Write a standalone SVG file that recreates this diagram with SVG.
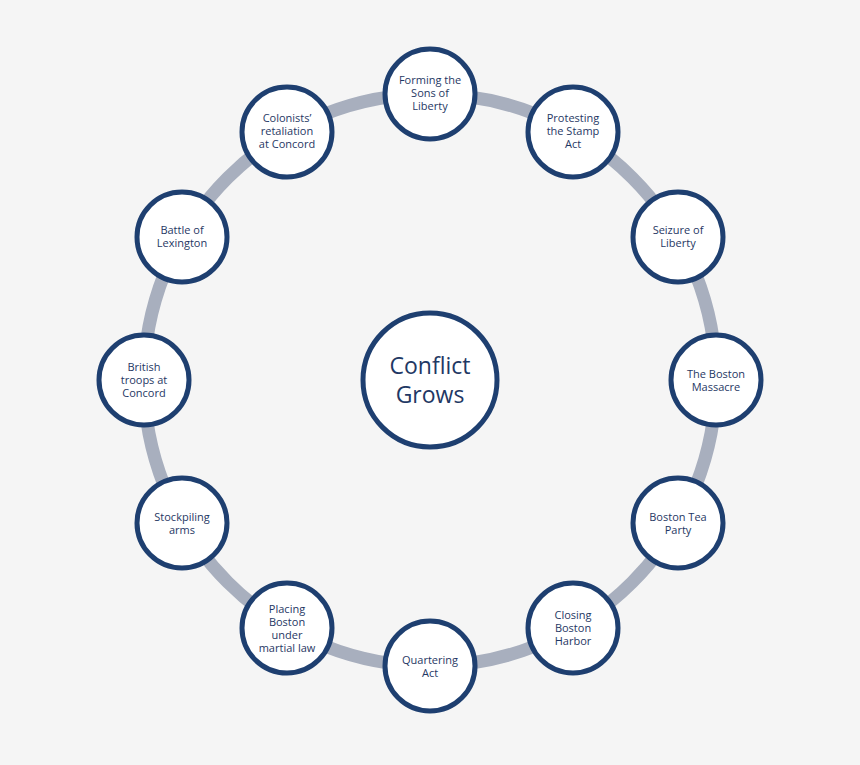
<svg xmlns="http://www.w3.org/2000/svg" width="860" height="765" viewBox="0 0 860 765">
<style>
.n{fill:#fff;stroke:#1e3f70;stroke-width:5}
.t{font-family:"Open Sans","Liberation Sans",sans-serif;font-size:11px;fill:#1f3864;text-anchor:middle}
.c{font-family:"Open Sans","Liberation Sans",sans-serif;font-size:23px;fill:#1f3864;text-anchor:middle}
</style>
<rect width="860" height="765" fill="#f5f5f5"/>
<g id="connectors"><circle cx="430" cy="380" r="286" fill="none" stroke="#a8afbe" stroke-width="13"/></g>
<g id="center"><circle class="n" cx="430" cy="380" r="67"/><text class="c" x="430" y="374">Conflict</text><text class="c" x="430" y="403">Grows</text></g>
<g id="n1"><circle class="n" cx="430" cy="94" r="45"/><text class="t" x="430" y="84">Forming the</text><text class="t" x="430" y="97">Sons of</text><text class="t" x="430" y="110">Liberty</text></g>
<g id="n2"><circle class="n" cx="573" cy="132" r="45"/><text class="t" x="573" y="122">Protesting</text><text class="t" x="573" y="135">the Stamp</text><text class="t" x="573" y="148">Act</text></g>
<g id="n3"><circle class="n" cx="678" cy="237" r="45"/><text class="t" x="678" y="234">Seizure of</text><text class="t" x="678" y="247">Liberty</text></g>
<g id="n4"><circle class="n" cx="716" cy="380" r="45"/><text class="t" x="716" y="378">The Boston</text><text class="t" x="716" y="391">Massacre</text></g>
<g id="n5"><circle class="n" cx="678" cy="523" r="45"/><text class="t" x="678" y="521">Boston Tea</text><text class="t" x="678" y="534">Party</text></g>
<g id="n6"><circle class="n" cx="573" cy="628" r="45"/><text class="t" x="573" y="619">Closing</text><text class="t" x="573" y="632">Boston</text><text class="t" x="573" y="645">Harbor</text></g>
<g id="n7"><circle class="n" cx="430" cy="666" r="45"/><text class="t" x="430" y="664">Quartering</text><text class="t" x="430" y="677">Act</text></g>
<g id="n8"><circle class="n" cx="287" cy="628" r="45"/><text class="t" x="287" y="613">Placing</text><text class="t" x="287" y="626">Boston</text><text class="t" x="287" y="639">under</text><text class="t" x="287" y="652">martial law</text></g>
<g id="n9"><circle class="n" cx="182" cy="523" r="45"/><text class="t" x="182" y="521">Stockpiling</text><text class="t" x="182" y="534">arms</text></g>
<g id="n10"><circle class="n" cx="144" cy="380" r="45"/><text class="t" x="144" y="371">British</text><text class="t" x="144" y="384">troops at</text><text class="t" x="144" y="397">Concord</text></g>
<g id="n11"><circle class="n" cx="182" cy="237" r="45"/><text class="t" x="182" y="234">Battle of</text><text class="t" x="182" y="247">Lexington</text></g>
<g id="n12"><circle class="n" cx="287" cy="132" r="45"/><text class="t" x="287" y="122">Colonists’</text><text class="t" x="287" y="135">retaliation</text><text class="t" x="287" y="148">at Concord</text></g>
</svg>
